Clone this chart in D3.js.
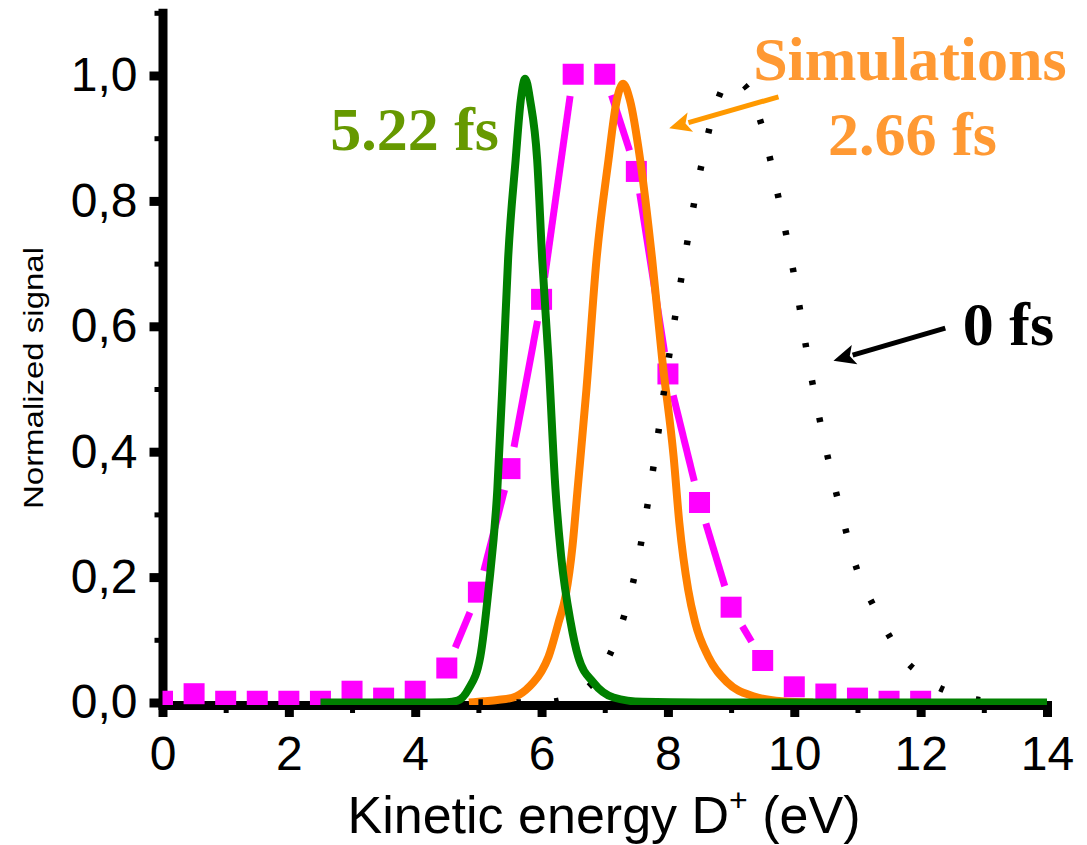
<!DOCTYPE html>
<html><head><meta charset="utf-8">
<script src="https://cdn.jsdelivr.net/npm/d3@7"></script>
<style>body{margin:0;background:#fff}</style>
</head><body><svg id="c" width="1087" height="845"></svg>
<script>
// ---- data ----
const expX = [0,0.5,1,1.5,2,2.5,3,3.5,4,4.5,5,5.5,6,6.5,7,7.5,8,8.5,9,9.5,10,10.5,11,11.5,12];
const expY = [0.002,0.014,0.002,0.002,0.002,0.002,0.018,0.007,0.018,0.055,0.176,0.373,0.643,1.002,1.002,0.847,0.524,0.319,0.152,0.067,0.025,0.0135,0.007,0.002,0.002];

const sim522X = [2.5,4.0,4.5,4.67,4.84,5.03,5.16,5.30,5.40,5.47,5.59,5.67,5.74,5.82,5.93,6.01,6.11,6.22,6.31,6.46,6.58,6.82,7.14,7.6,8.5,14];
const sim522Y = [0,0,0.0005,0.003,0.021,0.073,0.18,0.34,0.55,0.707,0.866,0.96,0.995,0.96,0.866,0.707,0.547,0.34,0.233,0.128,0.073,0.032,0.008,0.001,0,0];

const sim266X = [4.85,5.08,5.3,5.55,5.75,5.87,6.0,6.11,6.27,6.38,6.49,6.57,6.71,6.87,7.06,7.18,7.29,7.4,7.56,7.75,7.91,8.09,8.18,8.32,8.43,8.64,8.94,9.35,9.8,10.3];
const sim266Y = [0,0.002,0.004,0.008,0.02,0.032,0.05,0.073,0.128,0.17,0.25,0.34,0.499,0.707,0.866,0.955,0.987,0.96,0.866,0.707,0.547,0.392,0.287,0.18,0.128,0.073,0.032,0.01,0.002,0];

const sim0X = [5.0,6.0,6.5,7.0,7.25,7.5,7.75,8.0,8.25,8.5,8.75,9.0,9.25,9.5,9.75,10.0,10.25,10.5,10.75,11.0,11.25,11.5,11.75,12.0,12.25,12.5,12.75,13.0,13.5,14];
const sim0Y = [0,0,0.01,0.06,0.12,0.215,0.362,0.54,0.70,0.842,0.95,0.995,0.98,0.915,0.805,0.68,0.53,0.405,0.30,0.21,0.155,0.107,0.068,0.045,0.026,0.015,0.007,0.003,0,0];

const xTicks = [0,2,4,6,8,10,12,14];
const xTickLabels = ["0","2","4","6","8","10","12","14"];
const xMinor = [1,3,5,7,9,11,13];
const yTicks = [0,0.2,0.4,0.6,0.8,1.0];
const yTickLabels = ["0,0","0,2","0,4","0,6","0,8","1,0"];
const yMinor = [0.1,0.3,0.5,0.7,0.9,1.1];

const xTitle = "Kinetic energy D";
const yTitle = "Normalized signal";
const labels = [
  {text:"5.22 fs", x:3.99, y:0.881, color:"#669900"},
  {text:"Simulations", x:11.83, y:0.993, color:"#ff9933"},
  {text:"2.66 fs", x:11.87, y:0.873, color:"#ff9933"},
  {text:"0 fs", x:13.39, y:0.570, color:"#000000"}
];
const arrows = [
  {x1:9.75, y1:0.966, x2:8.02, y2:0.916, color:"#ff9900"},
  {x1:12.39, y1:0.597, x2:10.62, y2:0.545, color:"#000000"}
];

// ---- scales ----
const svg = d3.select("#c");
const x = d3.scaleLinear().domain([0,14]).range([162.5,1047]);
const y = d3.scaleLinear().domain([0,1.1]).range([702.5,12.8]);
const axisY0 = y(0)+2.5;

// ---- axes ----
const gx = svg.append("g").attr("transform",`translate(0,${axisY0})`)
  .call(d3.axisBottom(x).tickValues(xTicks).tickSize(12).tickSizeOuter(0)
    .tickFormat((d,i)=>xTickLabels[i]));
gx.select(".domain").attr("stroke","#000").attr("stroke-width",9).attr("stroke-linecap","square");
gx.selectAll(".tick line").attr("stroke","#000").attr("stroke-width",9);
gx.selectAll(".tick text").attr("y",65).attr("dy","0").attr("fill","#000")
  .style("font-family","'Liberation Sans',Arial,sans-serif").style("font-size","48px");
const gxm = svg.append("g").attr("transform",`translate(0,${axisY0})`)
  .call(d3.axisBottom(x).tickValues(xMinor).tickSize(8).tickSizeOuter(0).tickFormat(""));
gxm.select(".domain").remove();
gxm.selectAll(".tick line").attr("stroke","#000").attr("stroke-width",5);

const gy = svg.append("g").attr("transform",`translate(162.5,0)`)
  .call(d3.axisLeft(y).tickValues(yTicks).tickSize(13).tickSizeOuter(0)
    .tickFormat((d,i)=>yTickLabels[i]));
gy.select(".domain").attr("stroke","#000").attr("stroke-width",9).attr("stroke-linecap","square");
gy.selectAll(".tick line").attr("stroke","#000").attr("stroke-width",9);
gy.selectAll(".tick text").attr("x",-25).attr("dy","0.32em").attr("fill","#000")
  .style("font-family","'Liberation Sans',Arial,sans-serif").style("font-size","48px");
const gym = svg.append("g").attr("transform",`translate(162.5,0)`)
  .call(d3.axisLeft(y).tickValues(yMinor).tickSize(8).tickSizeOuter(0).tickFormat(""));
gym.select(".domain").remove();
gym.selectAll(".tick line").attr("stroke","#000").attr("stroke-width",5);

// axis titles
const xt = svg.append("text").attr("x",604).attr("y",833).attr("text-anchor","middle")
  .style("font-family","'Liberation Sans',Arial,sans-serif").style("font-size","52px").attr("fill","#000");
xt.append("tspan").text(xTitle);
xt.append("tspan").attr("dy",-22).style("font-size","32px").text("+");
xt.append("tspan").attr("dy",22).text(" (eV)");

svg.append("text").attr("transform","translate(43,378) rotate(-90)").attr("text-anchor","middle")
  .attr("textLength",262).attr("lengthAdjust","spacingAndGlyphs")
  .style("font-family","'Liberation Sans',Arial,sans-serif").style("font-size","28px").attr("fill","#000")
  .text(yTitle);

// ---- data layer ----
svg.append("clipPath").attr("id","clip").append("rect")
  .attr("x",x(0)).attr("y",0).attr("width",x(14)-x(0)+10).attr("height",y(0)+2.5);
const plot = svg.append("g").attr("clip-path","url(#clip)");

const expPts = expX.map((d,i)=>[x(d),y(expY[i])]);
const gap = 22;
for (let i=0;i<expPts.length-1;i++){
  const [ax,ay]=expPts[i],[bx,by]=expPts[i+1];
  const L=Math.hypot(bx-ax,by-ay);
  if (L<=2*gap+2) continue;
  const ux=(bx-ax)/L, uy=(by-ay)/L;
  plot.append("line").attr("x1",ax+ux*gap).attr("y1",ay+uy*gap)
    .attr("x2",bx-ux*gap).attr("y2",by-uy*gap)
    .attr("stroke","#ff00ff").attr("stroke-width",7);
}
const sq=21;
plot.selectAll("rect.exp").data(expPts).enter().append("rect").attr("class","exp")
  .attr("x",d=>d[0]-sq/2).attr("y",d=>d[1]-sq/2).attr("width",sq).attr("height",sq)
  .attr("fill","#ff00ff");

const line = d3.line().x(d=>x(d[0])).y(d=>y(d[1])).curve(d3.curveMonotoneX);
plot.append("path").datum(sim266X.map((d,i)=>[d,sim266Y[i]])).attr("d",line)
  .attr("fill","none").attr("stroke","#ff8000").attr("stroke-width",8);
plot.append("path").datum(sim0X.map((d,i)=>[d,sim0Y[i]])).attr("d",line)
  .attr("fill","none").attr("stroke","#000").attr("stroke-width",6.5).attr("stroke-dasharray","4.5 33.5");
plot.append("path").datum(sim522X.map((d,i)=>[d,sim522Y[i]])).attr("d",line)
  .attr("fill","none").attr("stroke","#008000").attr("stroke-width",8);

// ---- annotations ----
labels.forEach(l=>{
  svg.append("text").attr("x",x(l.x)).attr("y",y(l.y)).attr("text-anchor","middle")
    .style("font-family","'Liberation Serif','Times New Roman',serif").style("font-weight","bold")
    .style("font-size","62px").attr("fill",l.color).text(l.text);
});
arrows.forEach(a=>{
  const x1=x(a.x1),y1=y(a.y1),x2=x(a.x2),y2=y(a.y2);
  const L=Math.hypot(x2-x1,y2-y1), ux=(x2-x1)/L, uy=(y2-y1)/L;
  const hl=22, hw=10;
  const bx=x2-ux*hl, by=y2-uy*hl;
  svg.append("line").attr("x1",x1).attr("y1",y1).attr("x2",bx+ux*2).attr("y2",by+uy*2)
    .attr("stroke",a.color).attr("stroke-width",5);
  svg.append("path").attr("d",`M${x2},${y2}L${bx-uy*hw},${by+ux*hw}L${bx+ux*5},${by+uy*5}L${bx+uy*hw},${by-ux*hw}Z`)
    .attr("fill",a.color);
});
</script></body></html>
